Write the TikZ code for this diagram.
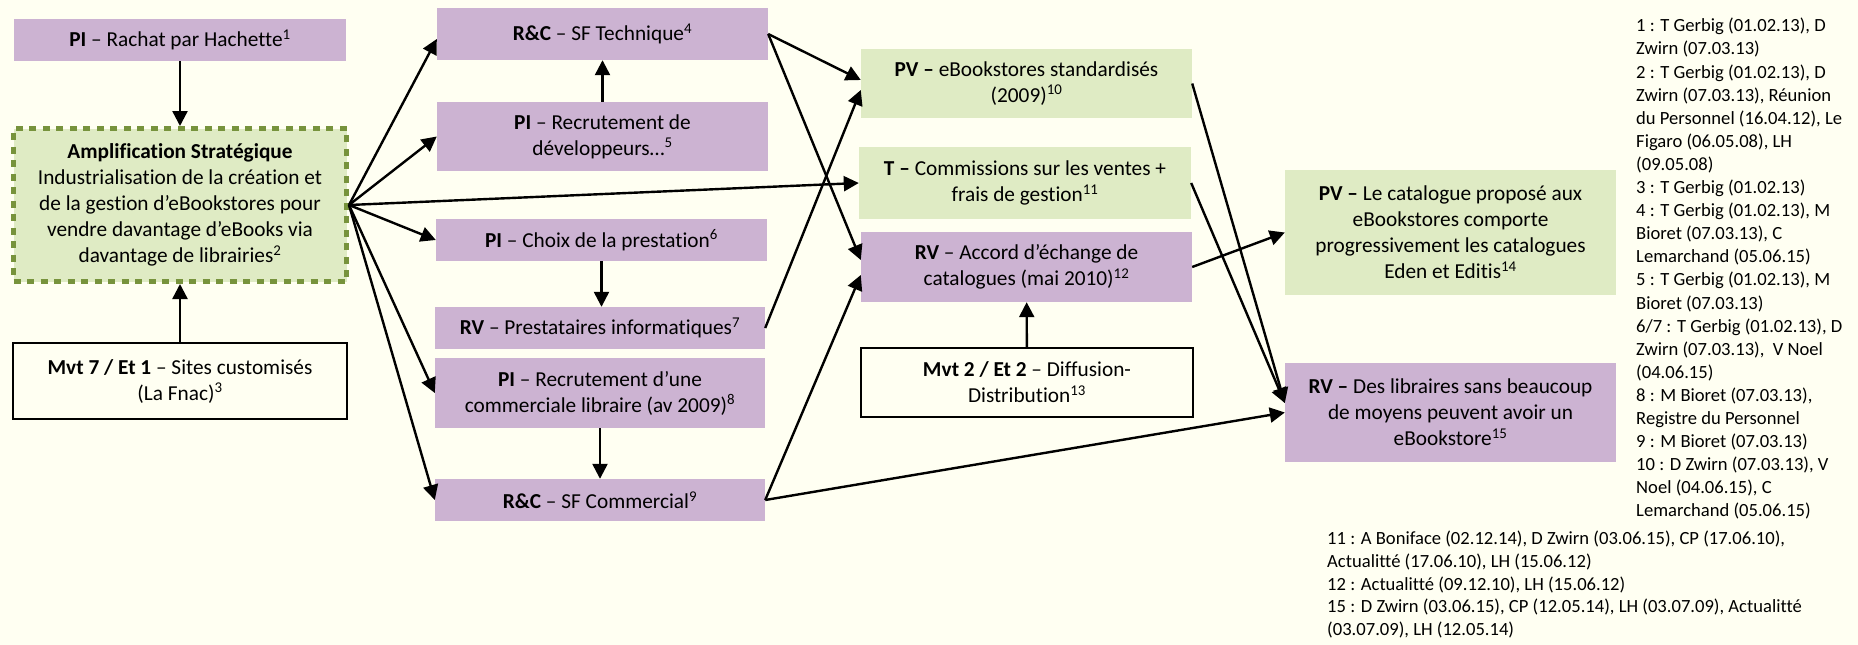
\documentclass[tikz,border=0pt]{standalone}
\usepackage{fontspec}
\setmainfont{Carlito}[Ligatures=NoCommon]
\usetikzlibrary{arrows.meta,calc}
\definecolor{bgc}{RGB}{255,255,242}
\definecolor{lilac}{RGB}{204,179,210}
\definecolor{pale}{RGB}{223,235,196}
\definecolor{olive}{RGB}{119,147,60}
\tikzset{
  box/.style={inner sep=0pt, align=center, font=\fontsize{21.3}{26}\selectfont},
  pbox/.style={box, fill=lilac},
  gbox/.style={box, fill=pale},
  wbox/.style={box, draw=black, line width=1.5pt},
  arr/.style={line width=2.4pt, -{Triangle[length=15pt,width=15pt]}},
  notes/.style={inner sep=0pt, align=left, anchor=north west, font=\fontsize{18.6}{23.1}\selectfont}
}
\begin{document}
\begin{tikzpicture}[x=1pt,y=-1pt]
\useasboundingbox[fill=bgc] (0,0) rectangle (1858,645);

\node[pbox, minimum width=332pt, minimum height=42pt] (rachat) at (180,40) {\textbf{PI} – Rachat par Hachette\textsuperscript{1}};
\node[gbox, draw=olive, line width=5pt, dash pattern=on 7pt off 6.5pt, minimum width=333pt, minimum height=153pt] (amp) at (180,205)
  {\textbf{Amplification Stratégique}\\Industrialisation de la création et\\de la gestion d’eBookstores pour\\vendre davantage d’eBooks via\\davantage de librairies\textsuperscript{2}};
\node[wbox, minimum width=334pt, minimum height=76pt] (mvt7) at (180,381) {\textbf{Mvt 7 / Et 1} – Sites customisés\\(La Fnac)\textsuperscript{3}};

\node[pbox, minimum width=331pt, minimum height=52pt] (tech) at (602.5,34) {\textbf{R\&C} – SF Technique\textsuperscript{4}};
\node[pbox, minimum width=331pt, minimum height=69pt] (dev) at (602.5,136.5) {\textbf{PI} – Recrutement de\\développeurs…\textsuperscript{5}};
\node[pbox, minimum width=331pt, minimum height=42pt] (choix) at (601.5,240) {\textbf{PI} – Choix de la prestation\textsuperscript{6}};
\node[pbox, minimum width=330pt, minimum height=42pt] (presta) at (600,328) {\textbf{RV} – Prestataires informatiques\textsuperscript{7}};
\node[pbox, minimum width=330pt, minimum height=70pt] (com) at (600,393) {\textbf{PI} – Recrutement d’une\\commerciale libraire (av 2009)\textsuperscript{8}};
\node[pbox, minimum width=330pt, minimum height=42pt] (sfc) at (600,500) {\textbf{R\&C} – SF Commercial\textsuperscript{9}};

\node[gbox, minimum width=331pt, minimum height=69pt] (pvs) at (1026.5,83.5) {\textbf{PV –} eBookstores standardisés\\(2009)\textsuperscript{10}};
\node[gbox, minimum width=332pt, minimum height=72pt] (tcom) at (1025,183) {\textbf{T –} Commissions sur les ventes +\\frais de gestion\textsuperscript{11}};
\node[pbox, minimum width=331pt, minimum height=70pt] (accord) at (1026.5,267) {\textbf{RV} – Accord d’échange de\\catalogues (mai 2010)\textsuperscript{12}};
\node[wbox, minimum width=332pt, minimum height=69pt] (mvt2) at (1027,382.5) {\textbf{Mvt 2 / Et 2} – Diffusion-\\Distribution\textsuperscript{13}};

\node[gbox, minimum width=331pt, minimum height=125pt] (cat) at (1450.5,232.5) {\textbf{PV –} Le catalogue proposé aux\\eBookstores comporte\\progressivement les catalogues\\Eden et Editis\textsuperscript{14}};
\node[pbox, minimum width=331pt, minimum height=99pt] (lib) at (1450.5,412.5) {\textbf{RV –} Des libraires sans beaucoup\\de moyens peuvent avoir un\\eBookstore\textsuperscript{15}};

\node[notes] (n1) at (1636,18) {1 : T Gerbig (01.02.13), D\\Zwirn (07.03.13)\\2 : T Gerbig (01.02.13), D\\Zwirn (07.03.13), Réunion\\du Personnel (16.04.12), Le\\Figaro (06.05.08), LH\\(09.05.08)\\3 : T Gerbig (01.02.13)\\4 : T Gerbig (01.02.13), M\\Bioret (07.03.13), C\\Lemarchand (05.06.15)\\5 : T Gerbig (01.02.13), M\\Bioret (07.03.13)\\6/7 : T Gerbig (01.02.13), D\\Zwirn (07.03.13), \ V Noel\\(04.06.15)\\8 : M Bioret (07.03.13),\\Registre du Personnel\\9 : M Bioret (07.03.13)\\10 : D Zwirn (07.03.13), V\\Noel (04.06.15), C\\Lemarchand (05.06.15)};
\node[notes, font=\fontsize{18.6}{22.7}\selectfont] (n2) at (1327,531) {11 : A Boniface (02.12.14), D Zwirn (03.06.15), CP (17.06.10),\\Actualitté (17.06.10), LH (15.06.12)\\12 : Actualitté (09.12.10), LH (15.06.12)\\15 : D Zwirn (03.06.15), CP (12.05.14), LH (03.07.09), Actualitté\\(03.07.09), LH (12.05.14)};

\draw[arr] (rachat) -- (amp);
\draw[arr] (mvt7) -- (amp);
\draw[arr] (amp.east) -- ([yshift=-5pt]tech.west);
\draw[arr] (amp.east) -- (dev.west);
\draw[arr] (amp.east) -- (tcom.west);
\draw[arr] (amp.east) -- (choix.west);
\draw[arr] (amp.east) -- (com.west);
\draw[arr] (amp.east) -- (sfc.west);
\draw[arr] (dev) -- (tech);
\draw[arr] (choix.south) -- (choix.south |- presta.north);
\draw[arr] (com) -- (sfc);
\draw[arr] (tech.east) -- ([yshift=3.5pt]pvs.west);
\draw[arr] (tech.east) -- ([yshift=7pt]accord.west);
\draw[arr] (presta.east) -- ([yshift=-6.5pt]pvs.west);
\draw[arr] (sfc.east) -- ([yshift=-8pt]accord.west);
\draw[arr] (sfc.east) -- (lib.west);
\draw[arr] (accord.east) -- (cat.west);
\draw[arr] (pvs.east) -- ([yshift=9.5pt]lib.west);
\draw[arr] (tcom.east) -- ([yshift=9.5pt]lib.west);
\draw[arr] (mvt2) -- (accord);
\end{tikzpicture}
\end{document}
